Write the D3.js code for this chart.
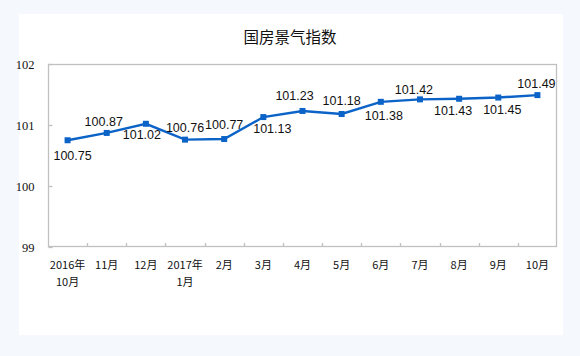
<!DOCTYPE html>
<html><head><meta charset="utf-8">
<script src="https://cdn.jsdelivr.net/npm/d3@7"></script>
<style>
html,body{margin:0;padding:0;background:#f5f8fd;}
svg{display:block;}
</style></head>
<body>
<svg id="c" width="580" height="356"></svg>
<script>
const title = "国房景气指数";
const categories = ["2016年\n10月","11月","12月","2017年\n1月","2月","3月","4月","5月","6月","7月","8月","9月","10月"];
const values = [100.75,100.87,101.02,100.76,100.77,101.13,101.23,101.18,101.38,101.42,101.43,101.45,101.49];
const yTicks = [99,100,101,102];
// label layout (dx, dy of text centre from the point)
const labelOffsets = [[5,15],[-3,-11],[-4,11],[0,-12],[0,-15],[9,11],[-8,-15],[0,-14],[3,14],[-6,-10],[-6,12],[4,12],[-1,-12]];

const svg = d3.select("#c");
svg.append("rect").attr("x",0).attr("y",0).attr("width",580).attr("height",356).attr("fill","#f5f8fd");
svg.append("rect").attr("x",19).attr("y",14).attr("width",544).attr("height",321).attr("fill","#fff");

const L=48, R=557, T=64, B=247;
const x = d3.scaleBand().domain(d3.range(categories.length)).range([L,R]);
const y = d3.scaleLinear().domain([99,102]).range([B,T]);

svg.append("text").attr("x",290).attr("y",43).attr("text-anchor","middle")
  .attr("font-family","'Noto Sans CJK SC', sans-serif").attr("font-size",15.5).attr("fill","#111").text(title);

// frame
svg.append("rect").attr("x",L+0.5).attr("y",T+0.5).attr("width",R-L-1).attr("height",B-T-1)
  .attr("fill","none").attr("stroke","#c0c0c0").attr("stroke-width",1.3);

// y axis
const yAxis = d3.axisLeft(y).tickValues(yTicks).tickSize(-4).tickPadding(14).tickFormat(d3.format("d"));
const ya = svg.append("g").attr("transform",`translate(${L+0.5},0)`).call(yAxis);
ya.select(".domain").remove();
ya.selectAll("line").attr("stroke","#c0c0c0").attr("stroke-width",1.3);
ya.selectAll("text").attr("font-family","'Liberation Serif',serif").attr("font-size",12.5).attr("fill","#111");

// x ticks at category boundaries
const bounds = d3.range(1,categories.length);
svg.append("g").selectAll("line").data(bounds).join("line")
  .attr("x1",i=>Math.round(x(i))+0.5).attr("x2",i=>Math.round(x(i))+0.5)
  .attr("y1",B).attr("y2",B-4).attr("stroke","#c0c0c0").attr("stroke-width",1.3);

// x labels
const xl = svg.append("g").selectAll("text").data(categories).join("text")
  .attr("x",(d,i)=>x(i)+x.bandwidth()/2).attr("y",269)
  .attr("text-anchor","middle")
  .attr("font-family","'Noto Sans CJK SC',sans-serif").attr("font-size",11).attr("fill","#111");
xl.each(function(d){
  const parts=d.split("\n");
  const t=d3.select(this);
  parts.forEach((p,k)=>t.append("tspan").attr("x",t.attr("x")).attr("dy",k?17:0).text(p));
});

// line
const cx = i=>x(i)+x.bandwidth()/2;
svg.append("path").datum(values)
  .attr("d",d3.line().x((d,i)=>cx(i)).y(d=>y(d)))
  .attr("fill","none").attr("stroke","#0b63c8").attr("stroke-width",2.4);
svg.append("g").selectAll("rect").data(values).join("rect")
  .attr("x",(d,i)=>cx(i)-3).attr("y",d=>y(d)-3).attr("width",6).attr("height",6).attr("fill","#0b63c8");

// value labels
svg.append("g").selectAll("text").data(values).join("text")
  .attr("x",(d,i)=>cx(i)+labelOffsets[i][0]).attr("y",(d,i)=>y(d)+labelOffsets[i][1])
  .attr("dy","0.36em").attr("text-anchor","middle")
  .attr("font-family","'Liberation Sans',Arial,sans-serif").attr("font-size",12.5).attr("fill","#111")
  .text(d=>d3.format(".2f")(d));
</script>
</body></html>
